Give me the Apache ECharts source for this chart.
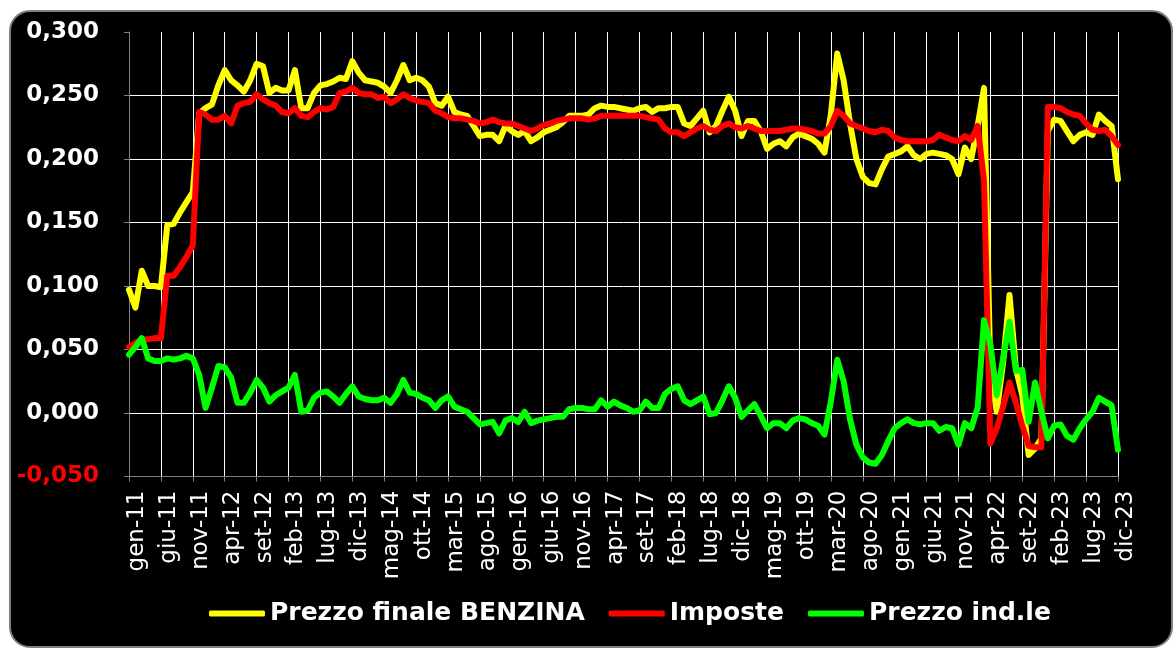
<!DOCTYPE html>
<html>
<head>
<meta charset="utf-8">
<script src="https://cdn.jsdelivr.net/npm/echarts@6/dist/echarts.min.js"></script>
<style>
  html, body { margin: 0; padding: 0; background: #fff; }
  #chart { width: 1175px; height: 649px; }
</style>
</head>
<body>
<div id="chart"></div>
<script>
// mesi gen-11 .. dic-23 (dati mensili)
const mesi = ["gen", "feb", "mar", "apr", "mag", "giu", "lug", "ago", "set", "ott", "nov", "dic"];
const anni = ["11", "12", "13", "14", "15", "16", "17", "18", "19", "20", "21", "22", "23"];
const categorie = [];
anni.forEach(a => mesi.forEach(m => categorie.push(m + "-" + a)));

// Prezzo finale BENZINA
const benzina = [
  0.097, 0.083, 0.112, 0.100, 0.100, 0.099, 0.148, 0.149, 0.158, 0.166,
  0.174, 0.236, 0.240, 0.243, 0.258, 0.270, 0.262, 0.258, 0.253, 0.262,
  0.275, 0.273, 0.252, 0.256, 0.254, 0.254, 0.270, 0.240, 0.240, 0.252,
  0.258, 0.259, 0.261, 0.264, 0.263, 0.277, 0.268, 0.262, 0.261, 0.260,
  0.257, 0.252, 0.262, 0.274, 0.262, 0.264, 0.262, 0.257, 0.244, 0.242,
  0.249, 0.237, 0.235, 0.234, 0.226, 0.218, 0.219, 0.219, 0.214, 0.226,
  0.222, 0.219, 0.222, 0.214, 0.217, 0.221, 0.223, 0.225, 0.229, 0.234,
  0.234, 0.234, 0.235, 0.240, 0.242, 0.241, 0.241, 0.240, 0.239, 0.238,
  0.240, 0.241, 0.237, 0.240, 0.240, 0.241, 0.241, 0.228, 0.226, 0.232,
  0.238, 0.221, 0.226, 0.238, 0.249, 0.238, 0.218, 0.230, 0.230, 0.222,
  0.208, 0.212, 0.214, 0.210, 0.217, 0.220, 0.218, 0.216, 0.212, 0.205,
  0.235, 0.283, 0.262, 0.228, 0.200, 0.186, 0.181, 0.180, 0.192, 0.202,
  0.204, 0.206, 0.210, 0.203, 0.200, 0.204, 0.205, 0.204, 0.203, 0.200,
  0.188, 0.209, 0.200, 0.226, 0.256, 0.032, 0.001, 0.040, 0.093, 0.035,
  0.014, -0.033, -0.028, -0.020, 0.222, 0.231, 0.230, 0.222, 0.214, 0.219,
  0.221, 0.219, 0.235, 0.230, 0.226, 0.184
];

// Imposte
const imposte = [
  0.052, 0.055, 0.058, 0.058, 0.059, 0.059, 0.108, 0.108, 0.115, 0.123,
  0.132, 0.237, 0.235, 0.231, 0.231, 0.234, 0.228, 0.242, 0.244, 0.245,
  0.251, 0.247, 0.244, 0.242, 0.237, 0.236, 0.240, 0.234, 0.233, 0.237,
  0.240, 0.239, 0.241, 0.252, 0.253, 0.256, 0.252, 0.251, 0.251, 0.248,
  0.249, 0.244, 0.247, 0.251, 0.248, 0.246, 0.245, 0.244, 0.238, 0.236,
  0.233, 0.232, 0.232, 0.231, 0.230, 0.228, 0.229, 0.231, 0.229, 0.228,
  0.228, 0.226, 0.224, 0.222, 0.224, 0.227, 0.228, 0.230, 0.231, 0.232,
  0.232, 0.232, 0.231, 0.232, 0.234, 0.234, 0.234, 0.234, 0.234, 0.234,
  0.234, 0.233, 0.232, 0.231, 0.224, 0.221, 0.221, 0.218, 0.221, 0.224,
  0.226, 0.223, 0.222, 0.226, 0.228, 0.225, 0.224, 0.226, 0.224, 0.222,
  0.222, 0.222, 0.222, 0.223, 0.224, 0.224, 0.223, 0.222, 0.220, 0.220,
  0.226, 0.238, 0.234, 0.228, 0.226, 0.224, 0.222, 0.221, 0.223, 0.222,
  0.217, 0.215, 0.214, 0.214, 0.214, 0.214, 0.215, 0.219, 0.217, 0.215,
  0.214, 0.218, 0.215, 0.226, 0.183, -0.024, -0.012, 0.005, 0.024, 0.008,
  -0.010, -0.026, -0.027, -0.027, 0.241, 0.241, 0.240, 0.237, 0.235, 0.234,
  0.228, 0.223, 0.222, 0.223, 0.218, 0.211
];

// Prezzo industriale
const prezzoInd = [
  0.046, 0.052, 0.059, 0.043, 0.041, 0.041, 0.043, 0.042, 0.043, 0.045,
  0.043, 0.030, 0.004, 0.020, 0.037, 0.036, 0.028, 0.008, 0.008, 0.016,
  0.026, 0.020, 0.009, 0.014, 0.017, 0.020, 0.030, 0.001, 0.002, 0.012,
  0.016, 0.017, 0.013, 0.008, 0.015, 0.021, 0.013, 0.011, 0.010, 0.010,
  0.012, 0.008, 0.015, 0.026, 0.016, 0.015, 0.012, 0.010, 0.004, 0.010,
  0.013, 0.005, 0.003, 0.001, -0.004, -0.009, -0.008, -0.007, -0.016, -0.006,
  -0.004, -0.007, 0.001, -0.008, -0.006, -0.005, -0.004, -0.003, -0.003, 0.003,
  0.004, 0.004, 0.003, 0.003, 0.010, 0.005, 0.009, 0.006, 0.004, 0.001,
  0.002, 0.009, 0.004, 0.004, 0.015, 0.019, 0.021, 0.010, 0.007, 0.010,
  0.013, -0.001, 0.000, 0.010, 0.021, 0.012, -0.003, 0.002, 0.007, -0.002,
  -0.012, -0.008, -0.008, -0.012, -0.006, -0.004, -0.005, -0.008, -0.010, -0.017,
  0.009, 0.042, 0.025, -0.005, -0.025, -0.035, -0.039, -0.040, -0.033, -0.022,
  -0.012, -0.008, -0.005, -0.008, -0.009, -0.008, -0.008, -0.014, -0.011, -0.012,
  -0.025, -0.008, -0.012, 0.004, 0.073, 0.054, 0.014, 0.043, 0.072, 0.033,
  0.034, -0.007, 0.024, 0.001, -0.020, -0.010, -0.009, -0.018, -0.021, -0.012,
  -0.005, 0.001, 0.012, 0.009, 0.006, -0.029
];

const nomi = ["Prezzo finale BENZINA", "Imposte", "Prezzo ind.le"];
const colori = ["#ffff00", "#ff0000", "#00ff00"];

const font = "DejaVu Sans";
const myChart = echarts.init(document.getElementById("chart"));

const linea = (nome, dati, colore) => ({
  name: nome,
  type: "line",
  data: dati,
  symbol: "none",
  smooth: false,
  lineStyle: { color: colore, width: 6, join: "round", cap: "round" },
  itemStyle: { color: colore },
});

const option = {
  animation: false,
  backgroundColor: "#ffffff",
  // riquadro nero con angoli arrotondati
  graphic: [{
    type: "rect",
    z: -100,
    silent: true,
    shape: { x: 10, y: 11, width: 1162, height: 636, r: 20 },
    style: { fill: "#000000", stroke: "#7f7f7f", lineWidth: 2 },
  }],
  grid: { left: 129, right: 57, top: 32, bottom: 172.5, containLabel: false },
  legend: {
    left: 204,
    top: 596,
    icon: "roundRect",
    itemWidth: 56,
    itemHeight: 6,
    itemGap: 24,
    data: nomi,
    textStyle: { color: "#ffffff", fontFamily: font, fontWeight: "bold", fontSize: 25 },
  },
  xAxis: {
    type: "category",
    boundaryGap: false,
    data: categorie,
    axisLine: { onZero: false, lineStyle: { color: "#808080", width: 1 } },
    axisTick: { interval: 4, length: 5, lineStyle: { color: "#808080" } },
    axisLabel: {
      interval: 4,
      rotate: 90,
      margin: 14,
      color: "#ffffff",
      fontFamily: font,
      fontSize: 23,
      verticalAlign: "top",
      lineHeight: 16,
    },
    splitLine: { show: true, interval: 4, showMinLine: false, lineStyle: { color: "#ffffff", width: 1 } },
  },
  yAxis: {
    type: "value",
    min: -0.05,
    max: 0.3,
    interval: 0.05,
    axisLine: { show: true, lineStyle: { color: "#808080", width: 1 } },
    axisTick: { show: true, length: 5, lineStyle: { color: "#808080" } },
    axisLabel: {
      margin: 30,
      fontFamily: font,
      fontWeight: "bold",
      fontSize: 23,
      color: v => (Number(v) < 0 ? "#ff0000" : "#ffffff"),
      formatter: v => v.toFixed(3).replace(".", ","),
    },
    splitLine: { show: true, showMaxLine: false, showMinLine: false, lineStyle: { color: "#ffffff", width: 1 } },
  },
  series: [
    linea(nomi[0], benzina, colori[0]),
    linea(nomi[1], imposte, colori[1]),
    linea(nomi[2], prezzoInd, colori[2]),
  ],
};

myChart.setOption(option);
</script>
</body>
</html>
